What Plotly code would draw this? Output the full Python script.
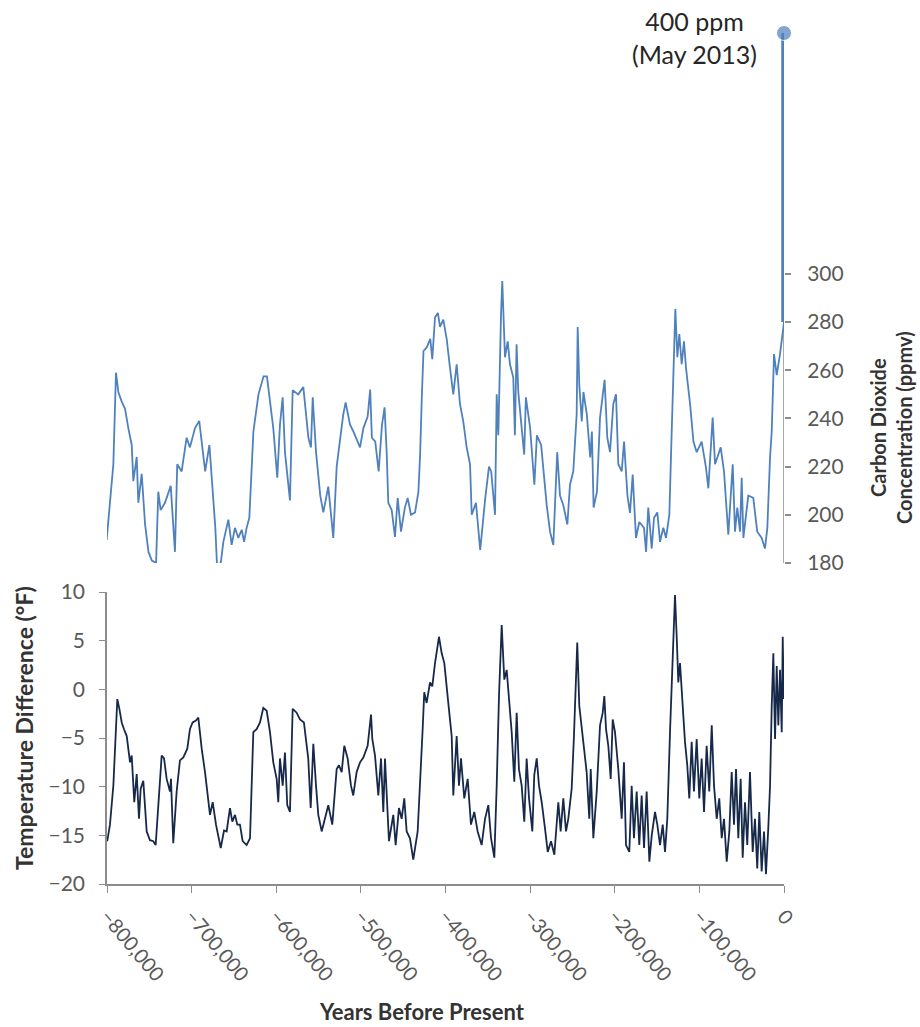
import plotly.graph_objects as go

# CO2 record (years before present in thousands, ppmv)
co2_kyr = [-800.4, -796.5, -792.5, -789.4, -786.6, -782.6, -778.7, -774.8, -770.8, -768.9,
           -764.9, -763.0, -759.0, -755.0, -751.0, -747.0, -742.0, -739.4, -736.6, -731.5,
           -724.7, -719.7, -717.0, -711.8, -705.9, -702.0, -696.0, -691.0, -688.0, -684.0,
           -679.0, -676.0, -672.0, -670.0, -665.6, -662.5, -656.6, -652.7, -648.8, -644.8,
           -640.8, -638.0, -635.0, -631.8, -627.0, -621.0, -615.0, -611.0, -603.5, -598.8,
           -595.6, -592.4, -589.7, -583.8, -580.6, -574.0, -568.0, -562.0, -559.0, -556.9,
           -553.0, -548.0, -544.4, -538.5, -532.6, -528.6, -520.8, -518.0, -512.9, -508.9,
           -501.0, -497.0, -492.0, -489.0, -487.0, -483.0, -479.0, -475.0, -472.0, -469.5,
           -467.6, -463.6, -459.7, -456.5, -452.6, -448.0, -444.7, -440.8, -436.0, -432.0,
           -430.0, -428.0, -426.0, -422.0, -418.0, -415.6, -412.4, -409.0, -406.5, -402.6,
           -398.6, -394.7, -390.8, -386.8, -382.9, -379.0, -375.0, -371.0, -369.0, -364.0,
           -359.0, -353.0, -348.6, -346.0, -341.5, -339.5, -337.6, -334.4, -332.9, -329.7,
           -326.5, -323.8, -319.9, -318.0, -316.0, -314.0, -310.0, -307.0, -305.0, -300.0,
           -295.0, -292.0, -287.0, -280.4, -276.5, -272.6, -268.0, -264.7, -260.8, -256.0,
           -252.9, -249.0, -245.0, -243.8, -241.9, -239.0, -237.0, -233.0, -229.0, -227.0,
           -225.0, -221.0, -217.4, -214.0, -212.0, -208.8, -205.6, -201.7, -198.5, -195.8,
           -191.8, -189.0, -185.0, -182.0, -178.8, -174.9, -171.0, -165.4, -163.0, -160.4,
           -156.3, -153.6, -149.7, -146.5, -142.6, -139.4, -135.5, -132.7, -130.0, -128.4,
           -126.0, -123.7, -120.9, -118.2, -115.8, -111.0, -107.0, -103.2, -97.3, -92.2,
           -89.4, -84.3, -81.5, -74.8, -70.9, -65.8, -60.6, -57.9, -55.2, -52.0,
           -50.0, -48.0, -42.2, -36.3, -31.6, -26.4, -22.5, -19.7, -16.5, -14.5,
           -11.8, -8.6, -4.7, -1.5, 0.0]
co2_ppm = [189.6, 207, 221, 259, 251, 247, 244, 236, 229, 214,
           224, 205, 217, 196, 184.6, 181, 180, 209.6, 202, 205,
           212, 184.6, 221, 218, 232, 228, 236, 239, 229, 218,
           229, 214, 194.6, 179.2, 180, 188.8, 198, 187.5, 194.6, 190.4,
           193.8, 188.8, 194.6, 198.8, 234.6, 250, 257.5, 257.5, 236, 215.4,
           237.5, 248.8, 226, 206, 251.7, 250, 253, 232, 228, 248.8,
           226, 208, 201, 211.7, 190.4, 220, 241.7, 246.7, 237.5, 234.6,
           228, 236, 240.8, 252, 232, 230.4, 218, 237.5, 244.6, 226,
           205, 202, 190.8, 207, 193, 203, 207, 200, 201, 209.6,
           225, 248.8, 268, 269.6, 273, 264.6, 282, 283.8, 278, 281,
           273, 261, 250, 262.5, 246, 238.8, 228, 221, 200, 205,
           185.4, 207, 220, 218, 200, 250, 233, 283, 297, 265.4,
           272, 262.5, 257, 233, 270.8, 251, 237.5, 225, 248.8, 236,
           212.5, 233, 229, 204, 193, 187.5, 226, 208, 204, 196,
           212.5, 218, 241.7, 278, 254, 238.8, 251, 241.7, 223.8, 234.6,
           203, 209.6, 240.4, 250, 256, 232, 226, 246, 250, 221,
           218, 230.4, 208, 200.8, 216.7, 190.4, 197, 194.6, 184.6, 203,
           186, 198.8, 201, 188.8, 194.6, 190.4, 200, 234.6, 262.5, 285.4,
           265.4, 275, 262.5, 272, 261, 246, 230.4, 226, 230.4, 219.6,
           211, 240.4, 221, 228, 218, 191.7, 221, 193, 203, 193,
           215.4, 190.4, 208, 207, 193, 190.4, 186, 194.6, 223.8, 234.6,
           266.7, 258, 266.7, 276, 280]

# modern value
today_kyr = [0, 0]
today_ppm = [280, 400]

# temperature difference (years before present in thousands, deg F)
temp_kyr = [-799.7, -796.5, -792.5, -787.8, -785.4, -782.6, -779.9, -776.7, -772.8, -770.8,
            -767.8, -764.9, -762.2, -760.2, -757.1, -755.1, -753.1, -749.2, -745.3, -742.5,
            -739.4, -735.4, -732.6, -729.5, -725.6, -724.4, -721.7, -717.7, -713.8, -709.8,
            -705.1, -702.0, -698.8, -694.9, -692.1, -688.1, -684.2, -680.3, -678.3, -675.1,
            -671.2, -665.6, -661.7, -658.6, -654.7, -651.9, -648.8, -646.0, -642.9, -639.7,
            -635.0, -631.0, -627.1, -623.2, -619.2, -615.3, -611.3, -607.4, -603.5, -599.5,
            -597.6, -595.6, -592.4, -589.7, -587.0, -583.8, -580.6, -575.9, -572.0, -567.3,
            -562.2, -559.3, -556.2, -553.0, -550.3, -546.3, -542.4, -538.5, -533.8, -528.6,
            -525.9, -522.7, -519.6, -515.6, -511.7, -509.0, -505.0, -501.0, -497.1, -492.0,
            -488.0, -486.5, -483.3, -479.4, -476.2, -473.5, -471.5, -468.3, -466.8, -461.7,
            -458.9, -455.0, -451.8, -448.7, -445.9, -442.0, -438.1, -432.9, -430.2, -427.0,
            -425.1, -422.3, -418.3, -415.6, -412.4, -407.7, -404.5, -401.4, -396.7, -392.7,
            -390.8, -386.8, -384.1, -381.7, -377.8, -373.8, -369.9, -366.0, -362.0, -357.3,
            -353.3, -349.4, -346.2, -342.3, -339.5, -336.8, -333.6, -330.5, -327.7, -325.0,
            -321.8, -318.7, -315.9, -313.2, -310.0, -306.9, -304.1, -301.3, -297.4, -295.1,
            -292.2, -289.5, -286.3, -282.4, -279.2, -275.3, -271.4, -266.7, -263.9, -260.8,
            -257.6, -254.9, -250.9, -248.2, -244.3, -241.9, -239.1, -236.3, -233.2, -230.1,
            -228.4, -225.3, -221.3, -217.4, -214.2, -212.3, -210.3, -207.6, -204.8, -202.4,
            -199.7, -195.8, -191.8, -189.1, -186.7, -182.8, -180.0, -177.3, -174.1, -171.0,
            -168.2, -165.4, -162.3, -159.1, -156.3, -152.4, -149.7, -146.5, -143.3, -140.6,
            -137.9, -134.7, -131.5, -128.8, -126.8, -124.9, -122.9, -119.7, -117.0, -114.3,
            -111.9, -109.1, -106.4, -103.2, -100.1, -97.3, -94.5, -91.4, -88.3, -85.4,
            -82.7, -79.5, -76.5, -73.6, -70.9, -67.7, -64.6, -61.8, -59.1, -56.7,
            -54.0, -51.2, -48.8, -46.1, -43.4, -40.2, -37.0, -34.3, -31.6, -29.2,
            -26.4, -23.6, -21.3, -18.6, -16.5, -14.5, -12.6, -10.6, -8.6, -6.7,
            -4.7, -2.7, -1.5, -0.3]
temp_f = [-15.6, -13.9, -9.9, -1.0, -2.0, -3.4, -4.1, -4.8, -7.5, -6.8,
          -11.6, -8.7, -13.3, -10.2, -9.4, -12.6, -14.6, -15.5, -15.6, -16.0,
          -11.6, -6.8, -7.1, -9.2, -10.5, -9.2, -15.8, -10.5, -7.3, -7.0,
          -6.1, -4.1, -3.4, -3.2, -2.9, -6.1, -8.5, -11.2, -12.9, -11.6,
          -13.9, -16.3, -14.5, -14.6, -12.2, -13.6, -12.9, -13.9, -13.9, -15.6,
          -16.0, -15.3, -4.4, -4.1, -3.4, -1.9, -2.2, -4.4, -7.5, -9.2,
          -11.6, -7.1, -9.9, -6.5, -11.9, -12.6, -2.0, -2.4, -3.1, -3.4,
          -7.1, -12.2, -5.6, -9.9, -12.9, -14.6, -13.3, -11.9, -13.9, -8.2,
          -7.8, -8.5, -5.8, -7.1, -9.9, -10.9, -8.5, -7.5, -7.0, -5.8,
          -2.6, -5.1, -6.8, -10.9, -7.1, -12.6, -7.1, -13.3, -15.6, -12.9,
          -16.0, -12.2, -13.3, -11.2, -14.6, -15.3, -17.5, -14.6, -10.2, -4.1,
          -0.3, -1.4, 0.7, 0.3, 2.7, 5.4, 3.7, 2.7, -1.4, -4.8,
          -10.9, -4.8, -9.9, -7.1, -11.2, -9.2, -13.9, -12.6, -14.6, -16.0,
          -13.3, -11.9, -15.3, -17.3, -9.9, -0.7, 6.6, 1.0, 2.0, -0.7,
          -4.4, -9.5, -2.4, -8.2, -9.9, -13.6, -7.1, -11.2, -14.6, -8.8,
          -7.1, -9.9, -11.6, -14.3, -16.7, -15.6, -17.0, -11.6, -14.6, -11.2,
          -14.6, -13.3, -10.2, -4.8, 4.8, -1.7, -4.1, -5.8, -8.5, -13.3,
          -8.2, -15.3, -10.5, -3.7, -2.4, -0.7, -4.1, -5.8, -9.2, -3.1,
          -4.4, -8.2, -13.3, -7.5, -16.0, -16.7, -9.9, -15.3, -10.5, -16.0,
          -10.9, -16.3, -10.5, -17.7, -15.0, -12.6, -13.9, -16.0, -13.9, -16.7,
          -13.3, -4.4, 3.7, 9.7, 5.4, 0.7, 2.7, -2.4, -5.4, -7.8,
          -11.2, -5.4, -10.5, -5.1, -11.2, -7.1, -12.6, -5.8, -10.5, -3.7,
          -9.9, -13.3, -11.2, -15.3, -13.3, -17.7, -14.6, -8.5, -13.9, -8.2,
          -15.3, -9.2, -17.3, -11.6, -16.0, -8.5, -16.7, -13.3, -18.4, -12.6,
          -18.7, -14.6, -19.0, -14.3, -9.9, -1.7, 3.7, -5.1, 2.4, -3.7,
          2.0, -4.4, 5.4, -1.0]

x_ticks = [-800000, -700000, -600000, -500000, -400000, -300000, -200000, -100000, 0]
co2_ticks = [180, 200, 220, 240, 260, 280, 300]
temp_ticks = [-20, -15, -10, -5, 0, 5, 10]

co2_years = [k * 1000 for k in co2_kyr]
temp_years = [k * 1000 for k in temp_kyr]
today_years = [k * 1000 for k in today_kyr]

font = "Lato, 'Open Sans', sans-serif"
axis_grey = "#8c8c8c"
tick_grey = "#595959"
title_col = "#333333"
co2_blue = "#4f81bd"

# full-window figure; the page body margin is removed after drawing
W, H = 920, 1027
L, T, R, B = 107, 33, 136, 143
pw, ph = W - L - R, H - T - B


def px(x):  # screen x -> paper
    return (x - L) / pw


def py(y):  # screen y -> paper
    return (H - B - y) / ph


fig = go.Figure()
fig.add_trace(go.Scatter(x=co2_years, y=co2_ppm, mode="lines", yaxis="y2",
                         line=dict(color=co2_blue, width=1.8)))
fig.add_trace(go.Scatter(x=today_years, y=today_ppm, mode="lines+markers", yaxis="y2",
                         line=dict(color=co2_blue, width=5.5),
                         marker=dict(size=[0, 15], color=co2_blue),
                         cliponaxis=False))
fig.add_trace(go.Scatter(x=temp_years, y=temp_f, mode="lines", yaxis="y",
                         line=dict(color="#17294a", width=1.8)))

# right axis line only over the labelled CO2 range
fig.add_shape(type="line", xref="x", yref="y2", x0=0, x1=0,
              y0=co2_ticks[0], y1=co2_ticks[-1], layer="below",
              line=dict(color=axis_grey, width=1.5))

fig.update_layout(
    width=W, height=H,
    margin=dict(l=L, r=R, t=T, b=B),
    plot_bgcolor="white", paper_bgcolor="white",
    showlegend=False,
    font=dict(family=font, color=tick_grey, size=20),
    xaxis=dict(range=[-800000, 0], anchor="y", tickvals=x_ticks,
               tickformat=",d", tickangle=50, showgrid=False, zeroline=False,
               showline=True, linecolor=axis_grey, linewidth=1.5,
               ticks="outside", ticklen=7, tickcolor=axis_grey,
               ticklabelstandoff=4,
               tickfont=dict(size=20, color=tick_grey)),
    yaxis=dict(domain=[0, (H - B - 592) / ph], range=[-20, 10], tickvals=temp_ticks,
               showgrid=False, zeroline=False, showline=True,
               linecolor=axis_grey, linewidth=1.5, ticks="outside",
               ticklen=6, tickcolor=axis_grey, ticklabelstandoff=10,
               tickfont=dict(size=21, color=tick_grey)),
    yaxis2=dict(domain=[(H - B - 563) / ph, 1], range=[180, 400], tickvals=co2_ticks,
                side="right", anchor="x", showgrid=False, zeroline=False,
                showline=False, ticks="outside", ticklen=6, tickcolor=axis_grey,
                tickwidth=1.5, ticklabelstandoff=12,
                tickfont=dict(size=21, color=tick_grey)),
    annotations=[
        dict(text="400 ppm<br>(May 2013)", xref="paper", yref="paper",
             x=px(694), y=py(4), xanchor="center", yanchor="top",
             showarrow=False, align="center",
             font=dict(size=25, color="#262626", family=font)),
        dict(text="<b>Carbon Dioxide<br>Concentration (ppmv)</b>", xref="paper", yref="paper",
             x=px(891), y=py(428), textangle=-90,
             xanchor="center", yanchor="middle", showarrow=False, align="center",
             font=dict(size=20, color=title_col, family=font)),
        dict(text="<b>Temperature Difference (°F)</b>", xref="paper", yref="paper",
             x=px(24), y=py(728), textangle=-90,
             xanchor="center", yanchor="middle", showarrow=False,
             font=dict(size=23, color=title_col, family=font)),
        dict(text="<b>Years Before Present</b>", xref="paper", yref="paper",
             x=px(422), y=py(1012), xanchor="center", yanchor="middle",
             showarrow=False,
             font=dict(size=22, color=title_col, family=font)),
    ],
)

fig.write_html("out.html", config={"displayModeBar": False},
               post_script="document.body.style.margin='0';"
                           "document.body.style.overflow='hidden';")
